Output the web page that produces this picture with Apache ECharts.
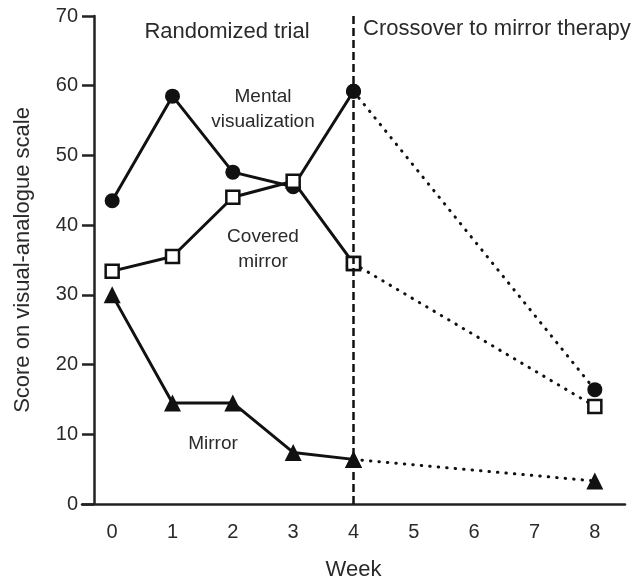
<!DOCTYPE html>
<html lang="en">
<head>
	<meta charset="UTF-8">
	<title>Mirror therapy</title>
	<style>
	body, div {
		margin: 0;
		padding: 0;
	}
	#echart {
		width: 637px;
		height: 586px;
	}
	</style>
</head>
<body>
	<div id="echart"></div>

	<script src="https://cdn.jsdelivr.net/npm/echarts@6/dist/echarts.min.js"></script>

	<script>
	// data
	// ---------------------------------------------------------------
	var weeks = ['0', '1', '2', '3', '4', '5', '6', '7', '8'];
	var yTicks = [0, 10, 20, 30, 40, 50, 60, 70];

	// weeks 0-4 (randomized trial)
	var mentalTrial  = [43.5, 58.5, 47.6, 45.5, 59.2];
	var coveredTrial = [33.4, 35.5, 44.0, 46.3, 34.5];
	var mirrorTrial  = [30.0, 14.5, 14.5, 7.4, 6.4];

	// week 8 after crossover
	var mentalWeek8  = 16.4;
	var coveredWeek8 = 14.0;
	var mirrorWeek8  = 3.3;

	var crossoverWeek = '4';

	var ink = '#111';
	var font = '"Liberation Sans", Arial, sans-serif';

	function crossover(trial, week8) {
		// dotted link from week 4 to week 8
		return [[4, trial[4]], [8, week8]];
	}

	function solidSeries(name, data, symbol, size, fill) {
		return {
			name: name,
			type: 'line',
			data: data,
			symbol: symbol,
			symbolSize: size,
			z: 3,
			lineStyle: { color: ink, width: 3 },
			itemStyle: { color: fill, borderColor: ink, borderWidth: fill === '#fff' ? 2.5 : 0, opacity: 1 }
		};
	}

	function dottedSeries(name, data, symbol, size, fill) {
		return {
			name: name,
			type: 'line',
			data: data,
			symbol: symbol,
			symbolSize: size,
			z: 2,
			lineStyle: { color: ink, width: 3, type: [0.5, 8], cap: 'round' },
			itemStyle: { color: fill, borderColor: ink, borderWidth: fill === '#fff' ? 2.5 : 0, opacity: 1 }
		};
	}

	var myEchart = echarts.init(document.getElementById('echart'));

	var series = [
		solidSeries('Mental visualization', mentalTrial, 'circle', 15, ink),
		dottedSeries('Mental visualization 8', crossover(mentalTrial, mentalWeek8), 'circle', 15, ink),
		solidSeries('Covered mirror', coveredTrial, 'rect', 13, '#fff'),
		dottedSeries('Covered mirror 8', crossover(coveredTrial, coveredWeek8), 'rect', 13, '#fff'),
		solidSeries('Mirror', mirrorTrial, 'triangle', 17, ink),
		dottedSeries('Mirror 8', crossover(mirrorTrial, mirrorWeek8), 'triangle', 17, ink)
	];

	series[0].markLine = {
		silent: true,
		symbol: 'none',
		label: { show: false },
		lineStyle: { color: ink, width: 2.5, type: [8, 4] },
		data: [{ xAxis: crossoverWeek }]
	};

	function note(text, x, y, size, align) {
		return {
			type: 'text',
			z: 10,
			style: {
				text: text,
				x: x,
				y: y,
				textAlign: align || 'center',
				textVerticalAlign: 'middle',
				font: size + 'px ' + font,
				fill: '#2a2a2a'
			}
		};
	}

	var option = {
		animation: false,
		backgroundColor: '#fff',
		grid: {
			left: 82,
			right: 12,
			top: 16,
			bottom: 81
		},
		xAxis: {
			type: 'category',
			data: weeks,
			boundaryGap: true,
			name: 'Week',
			nameLocation: 'middle',
			nameGap: 55,
			nameTextStyle: { fontSize: 22, color: '#2a2a2a', fontFamily: font },
			axisLine: { lineStyle: { color: '#222', width: 2.5 } },
			axisTick: { alignWithLabel: true, length: 12, lineStyle: { color: '#222', width: 2.5 } },
			axisLabel: { margin: 18, fontSize: 20, color: '#2a2a2a', fontFamily: font },
			splitLine: { show: false }
		},
		yAxis: {
			type: 'value',
			min: yTicks[0],
			max: yTicks[yTicks.length - 1],
			interval: 10,
			offset: -12,
			name: 'Score on visual-analogue scale',
			nameLocation: 'middle',
			nameGap: 60,
			nameTextStyle: { fontSize: 22, color: '#2a2a2a', fontFamily: font },
			axisLine: { show: true, lineStyle: { color: '#222', width: 2.5 } },
			axisTick: { show: true, length: 12, lineStyle: { color: '#222', width: 2.5 } },
			axisLabel: { margin: 16, fontSize: 20, color: '#2a2a2a', fontFamily: font },
			splitLine: { show: false }
		},
		graphic: [
			note('Randomized trial', 227, 32, 22),
			note('Crossover to mirror therapy', 363, 29, 22, 'left'),
			note('Mental', 263, 97, 19),
			note('visualization', 263, 122, 19),
			note('Covered', 263, 237, 19),
			note('mirror', 263, 262, 19),
			note('Mirror', 213, 444, 19)
		],
		series: series
	};

	myEchart.setOption(option);
	</script>
</body>
</html>
